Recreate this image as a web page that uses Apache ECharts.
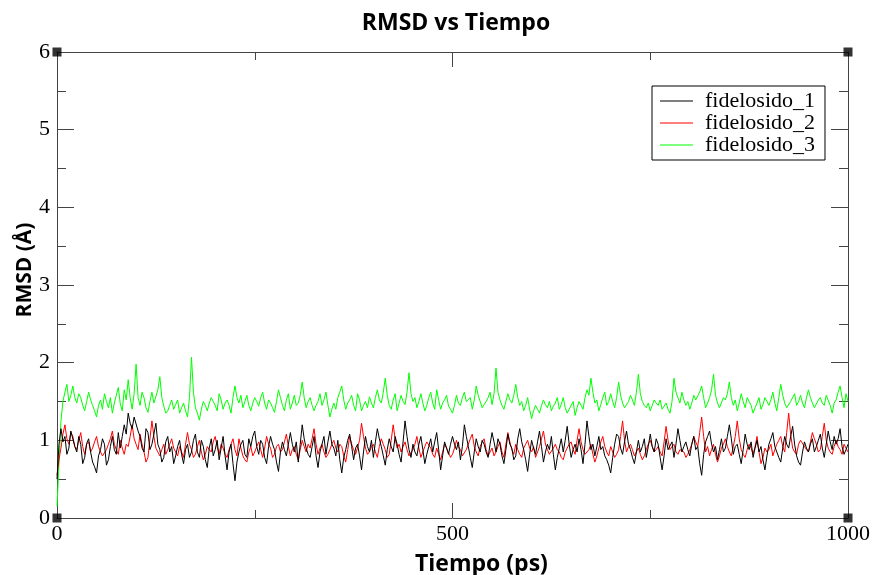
<!DOCTYPE html>
<html>
<head>
<meta charset="utf-8">
<script src="https://cdn.jsdelivr.net/npm/echarts@6/dist/echarts.min.js"></script>
<style>html,body{margin:0;padding:0;background:#fff;}#c{width:873px;height:575px;}</style>
</head>
<body>
<div id="c"></div>
<script>
const seriesNames = ['fidelosido_1', 'fidelosido_2', 'fidelosido_3'];
const timeStart = 0;
const timeStep = 2.5; // ps between samples
const xTicks = [0, 500, 1000];
const yTicks = [0, 1, 2, 3, 4, 5, 6];
const cornerPoints = [[0, 0], [0, 6], [1000, 0], [1000, 6]];

const fidelosido1 = [
0.50,0.95,1.15,0.98,1.05,0.82,0.90,1.12,1.10,0.92,0.85,1.05,0.95,0.70,0.78,0.96,1.02,0.85,0.72,0.66,
0.58,0.80,0.88,1.02,0.95,0.68,0.75,0.92,1.05,0.88,0.82,1.10,0.90,1.05,1.20,1.08,1.35,1.22,1.15,1.30,
1.28,1.12,1.05,0.90,0.85,1.15,1.10,0.88,0.95,1.08,1.22,0.95,0.88,0.72,0.78,0.98,1.05,0.85,0.92,0.70,
0.80,0.92,1.00,0.82,0.70,0.88,0.95,0.78,0.85,1.00,1.08,0.85,0.78,1.00,0.92,0.75,0.65,0.90,1.02,0.80,
0.88,1.00,0.75,0.90,1.05,0.80,0.62,0.85,0.95,0.70,0.48,0.72,0.85,0.95,1.00,0.82,0.78,1.02,0.92,1.05,
1.12,0.92,0.82,1.00,0.95,0.78,0.70,0.92,1.05,0.95,0.88,0.72,0.60,0.85,0.98,0.88,0.80,0.95,1.10,0.95,
0.85,0.98,0.72,0.95,1.20,1.02,0.90,0.82,0.78,0.92,1.05,0.80,0.65,0.85,0.95,1.05,0.82,0.98,1.12,0.95,
0.90,0.80,1.00,0.75,0.58,0.78,0.88,1.00,1.08,0.92,0.75,0.90,0.95,0.80,0.62,0.85,1.05,0.92,0.85,1.00,
0.78,0.98,1.15,1.02,0.92,0.80,0.68,0.88,1.02,0.92,0.85,1.05,0.95,0.82,0.72,0.98,1.25,1.05,0.88,0.78,
0.95,0.85,0.80,0.95,1.05,0.88,0.70,0.82,0.92,1.02,0.85,0.98,1.10,0.88,0.62,0.80,0.98,0.90,0.82,0.95,
1.05,0.95,0.88,0.98,0.75,0.92,1.20,1.05,0.92,0.78,0.65,0.85,1.02,0.92,0.85,1.00,0.95,0.85,0.78,0.95,
1.10,0.98,0.85,1.02,0.95,0.80,0.70,0.88,1.08,0.95,0.90,0.75,0.80,1.02,1.15,0.98,0.88,0.75,0.60,0.82,
1.00,0.90,0.82,0.98,1.12,0.92,0.72,0.85,0.95,0.88,1.05,0.82,0.62,0.78,0.90,1.02,0.85,1.00,1.18,0.95,
0.78,0.88,0.95,0.85,1.02,0.88,0.70,0.95,1.25,1.05,0.88,0.95,0.80,0.92,1.05,0.88,0.92,0.80,0.75,0.68,
0.58,0.78,0.95,1.08,1.05,0.90,0.82,0.98,1.12,0.95,0.88,0.78,0.70,0.85,1.00,0.85,0.92,1.02,0.78,0.92,
1.08,0.92,0.85,1.02,0.95,0.78,0.62,0.80,1.02,0.88,0.90,0.98,0.78,0.95,1.15,1.00,0.85,0.92,0.98,0.88,
0.80,0.95,1.05,0.88,0.92,0.70,0.55,0.82,0.98,1.05,1.12,0.95,0.85,0.92,0.75,0.88,1.02,0.85,0.90,1.05,
1.20,1.02,0.82,0.92,0.95,0.82,0.70,0.88,1.08,0.95,0.88,0.98,0.78,0.90,1.00,0.85,0.92,0.75,0.62,0.80,
0.95,1.02,1.10,0.92,0.85,0.78,0.72,0.90,1.05,0.95,0.90,1.05,1.18,0.95,0.80,0.72,0.68,0.85,0.98,0.90,
0.85,0.95,1.02,0.85,0.92,1.00,1.08,0.90,0.78,0.95,1.12,0.98,0.88,1.05,0.95,1.02,1.15,0.92,0.82,0.88,
0.95];

const fidelosido2 = [
0.55,0.75,0.90,1.08,1.20,1.02,0.95,1.10,1.05,0.92,0.88,1.00,1.10,0.92,0.82,0.95,0.98,0.85,0.90,0.98,
1.05,0.92,0.85,0.80,0.78,0.88,0.95,1.02,1.12,0.95,0.88,0.82,1.00,0.90,0.82,0.95,0.92,1.05,1.20,1.02,
0.95,0.88,1.08,0.95,0.85,0.72,0.78,1.02,1.25,1.05,0.90,0.85,0.80,0.88,0.95,0.82,0.88,0.95,1.02,0.90,
0.85,0.80,0.92,0.85,0.78,0.95,1.10,0.95,0.88,0.78,0.82,0.92,1.00,0.85,0.75,0.82,0.92,0.88,0.85,0.98,
1.05,0.92,0.82,0.95,0.90,0.82,0.78,0.88,0.95,1.02,0.88,0.80,1.02,0.90,0.80,0.75,0.72,0.85,0.92,0.80,
0.85,0.92,0.98,0.88,0.78,0.90,1.05,0.95,0.90,0.78,0.82,0.92,0.95,0.85,0.88,0.98,1.08,0.92,0.80,0.88,
0.92,0.82,0.75,0.88,1.00,0.92,0.85,0.95,0.90,1.02,1.15,0.95,0.82,0.90,0.95,0.85,0.78,0.82,0.88,0.95,
1.00,0.90,0.85,0.95,0.92,0.80,0.72,0.88,1.05,0.95,0.88,0.82,0.80,1.00,1.22,1.05,0.90,0.82,0.85,0.92,
0.95,0.85,0.78,0.92,1.02,0.95,0.88,0.78,0.82,1.00,1.20,1.02,0.90,0.95,0.85,0.92,0.98,0.88,0.80,0.82,
0.88,0.95,1.05,0.90,0.78,0.85,0.92,0.98,1.00,0.90,0.82,0.78,0.90,0.82,0.75,0.85,0.95,0.90,0.88,0.78,
0.82,0.90,1.00,0.92,0.88,0.80,0.78,0.88,0.95,1.02,1.08,0.92,0.85,0.80,0.92,0.98,1.02,0.88,0.80,0.85,
0.90,0.80,0.85,0.92,0.98,0.85,0.78,0.95,1.10,0.98,0.88,0.82,0.95,0.88,0.82,0.78,0.90,0.95,1.00,0.90,
0.85,0.92,0.78,0.85,0.92,1.02,1.12,0.95,0.88,0.82,0.80,0.90,0.95,0.88,0.85,0.78,0.75,0.85,0.90,0.95,
0.98,0.88,0.82,1.00,1.15,0.98,0.88,0.82,0.80,0.88,0.95,0.82,0.72,0.80,0.90,0.98,1.05,0.92,0.85,0.80,
0.92,0.85,0.78,0.82,0.88,1.05,1.25,1.00,0.85,0.92,0.95,0.88,0.80,0.85,0.90,0.82,0.75,0.80,0.88,0.95,
1.00,0.92,0.85,0.88,0.92,0.85,0.80,0.98,1.18,1.00,0.88,0.92,0.95,0.85,0.82,0.88,0.90,0.85,0.78,0.82,
0.88,0.95,1.05,0.98,0.92,1.10,1.30,1.05,0.85,0.92,0.80,0.88,0.95,0.82,0.72,0.80,0.90,0.95,1.02,0.92,
0.85,0.80,0.92,1.05,1.25,1.02,0.88,0.82,0.78,0.88,0.95,0.90,0.82,0.92,1.05,0.85,0.70,0.78,0.90,0.85,
0.88,0.95,0.80,0.88,0.95,1.00,1.05,0.92,0.85,1.10,1.35,1.08,0.90,0.85,0.82,0.95,1.00,0.98,0.92,0.88,
0.85,0.98,1.10,1.02,0.95,0.85,0.88,1.05,1.22,1.00,0.90,0.85,0.82,0.92,1.00,0.92,0.88,0.82,0.95,0.90,
0.85];

const fidelosido3 = [
0.15,0.70,1.25,1.50,1.62,1.72,1.50,1.58,1.70,1.55,1.48,1.60,1.55,1.45,1.38,1.50,1.62,1.52,1.45,1.38,
1.30,1.45,1.52,1.40,1.60,1.50,1.42,1.55,1.35,1.48,1.58,1.68,1.47,1.38,1.65,1.52,1.78,1.55,1.40,1.60,
1.98,1.55,1.45,1.62,1.55,1.42,1.36,1.50,1.62,1.48,1.50,1.65,1.82,1.55,1.44,1.35,1.38,1.45,1.52,1.40,
1.46,1.52,1.35,1.42,1.48,1.38,1.30,1.55,2.07,1.62,1.42,1.35,1.26,1.40,1.50,1.45,1.38,1.48,1.55,1.50,
1.45,1.38,1.60,1.52,1.40,1.48,1.52,1.45,1.35,1.55,1.70,1.55,1.48,1.58,1.42,1.50,1.58,1.45,1.38,1.48,
1.55,1.50,1.44,1.55,1.62,1.48,1.40,1.52,1.48,1.42,1.36,1.50,1.65,1.55,1.45,1.38,1.52,1.60,1.40,1.48,
1.58,1.45,1.48,1.58,1.75,1.55,1.42,1.50,1.55,1.45,1.38,1.45,1.50,1.60,1.45,1.52,1.62,1.45,1.30,1.40,
1.48,1.40,1.55,1.62,1.70,1.52,1.40,1.48,1.52,1.58,1.45,1.38,1.60,1.52,1.38,1.45,1.50,1.42,1.56,1.48,
1.42,1.55,1.65,1.52,1.48,1.62,1.80,1.58,1.45,1.40,1.52,1.60,1.38,1.48,1.58,1.50,1.46,1.62,1.87,1.60,
1.50,1.55,1.42,1.50,1.60,1.48,1.38,1.45,1.55,1.62,1.48,1.40,1.65,1.52,1.40,1.48,1.52,1.58,1.44,1.40,
1.35,1.45,1.58,1.48,1.45,1.55,1.62,1.50,1.48,1.55,1.40,1.52,1.70,1.58,1.50,1.42,1.42,1.50,1.55,1.62,
1.46,1.60,1.93,1.62,1.52,1.45,1.40,1.50,1.60,1.52,1.48,1.58,1.72,1.55,1.45,1.50,1.38,1.45,1.55,1.40,
1.28,1.38,1.45,1.40,1.35,1.45,1.52,1.46,1.42,1.50,1.38,1.44,1.48,1.55,1.40,1.46,1.55,1.42,1.35,1.40,
1.45,1.50,1.32,1.42,1.50,1.45,1.40,1.55,1.65,1.58,1.80,1.62,1.48,1.52,1.38,1.46,1.55,1.62,1.45,1.50,
1.60,1.50,1.42,1.55,1.75,1.58,1.48,1.42,1.40,1.50,1.58,1.52,1.45,1.62,1.85,1.60,1.50,1.45,1.42,1.48,
1.38,1.45,1.52,1.48,1.45,1.52,1.40,1.42,1.48,1.40,1.35,1.50,1.80,1.62,1.55,1.48,1.62,1.52,1.45,1.50,
1.40,1.48,1.58,1.52,1.50,1.62,1.70,1.55,1.42,1.48,1.55,1.65,1.85,1.58,1.48,1.42,1.40,1.55,1.52,1.60,
1.75,1.55,1.45,1.52,1.38,1.48,1.60,1.50,1.42,1.55,1.50,1.45,1.35,1.42,1.48,1.55,1.40,1.46,1.55,1.50,
1.45,1.52,1.62,1.48,1.38,1.55,1.72,1.58,1.48,1.42,1.40,1.50,1.52,1.60,1.45,1.50,1.58,1.48,1.42,1.55,
1.65,1.55,1.48,1.42,1.40,1.52,1.55,1.48,1.45,1.58,1.60,1.45,1.35,1.48,1.52,1.62,1.70,1.55,1.42,1.60,
1.50];

const seriesValues = [fidelosido1, fidelosido2, fidelosido3];
const seriesColors = ['#000000', '#ff0000', '#00ff00'];

function pairs(vals) {
  return vals.map((v, i) => [timeStart + i * timeStep, v]);
}

const serifFont = '"Liberation Serif", "DejaVu Serif", serif';
const sansFont = '"Open Sans", "Noto Sans", sans-serif';
const axisColor = '#444';

const chart = echarts.init(document.getElementById('c'), null, {renderer: 'canvas'});

const baseX = {
  type: 'value', min: xTicks[0], max: xTicks[xTicks.length - 1], interval: xTicks[1] - xTicks[0],
  axisLine: {onZero: false, lineStyle: {color: axisColor, width: 1}},
  axisTick: {inside: true, length: 15, lineStyle: {color: axisColor}},
  minorTick: {show: true, splitNumber: 2, length: 8, lineStyle: {color: axisColor}},
  splitLine: {show: false}, minorSplitLine: {show: false}
};
const baseY = {
  type: 'value', min: yTicks[0], max: yTicks[yTicks.length - 1], interval: yTicks[1] - yTicks[0],
  axisLine: {onZero: false, lineStyle: {color: axisColor, width: 1}},
  axisTick: {inside: true, length: 17, lineStyle: {color: axisColor}},
  minorTick: {show: true, splitNumber: 2, length: 9, lineStyle: {color: axisColor}},
  splitLine: {show: false}, minorSplitLine: {show: false}
};

const option = {
  animation: false,
  backgroundColor: '#fff',
  title: {
    text: 'RMSD vs Tiempo',
    left: 451, top: 7, textAlign: 'center',
    textStyle: {fontFamily: sansFont, fontWeight: 'bold', fontSize: 23, color: '#000'}
  },
  grid: {left: 57, right: 23, top: 52, bottom: 57, containLabel: false},
  legend: {
    orient: 'vertical', left: 652, top: 86,
    data: seriesNames,
    icon: 'rect',
    backgroundColor: '#fff',
    borderColor: '#000', borderWidth: 1,
    padding: [4, 10, 4, 8],
    itemWidth: 33, itemHeight: 1, itemGap: 0,
    textStyle: {fontFamily: serifFont, fontSize: 22, lineHeight: 21, color: '#000', padding: [0, 0, 0, 7]}
  },
  xAxis: [
    Object.assign({}, baseX, {
      position: 'bottom',
      axisLabel: {fontFamily: serifFont, fontSize: 22, color: '#000', margin: 5,
                  formatter: v => String(v)}
    }),
    Object.assign({}, baseX, {position: 'top', axisLabel: {show: false}})
  ],
  yAxis: [
    Object.assign({}, baseY, {
      position: 'left',
      axisLabel: {fontFamily: serifFont, fontSize: 22, color: '#000', margin: 7}
    }),
    Object.assign({}, baseY, {position: 'right', axisLabel: {show: false}})
  ],
  graphic: [
    {type: 'text', left: 415, top: 553,
     style: {text: 'Tiempo (ps)', font: 'bold 23px ' + sansFont, fill: '#000'}},
    {type: 'text', x: 25, y: 270, rotation: Math.PI / 2,
     style: {text: 'RMSD (Å)', font: 'bold 21px ' + sansFont, fill: '#000', align: 'center', verticalAlign: 'middle'}}
  ],
  series: seriesNames.map((name, k) => ({
    name: name, type: 'line', xAxisIndex: 0, yAxisIndex: 0,
    data: pairs(seriesValues[k]),
    symbol: 'none', showSymbol: false,
    lineStyle: {color: seriesColors[k], width: 1},
    itemStyle: {color: seriesColors[k]},
    z: 3 - k
  })).concat([{
    type: 'scatter', data: cornerPoints, symbol: 'rect', symbolSize: 9,
    itemStyle: {color: '#000'}, silent: true, z: 10, clip: false
  }])
};
chart.setOption(option);
</script>
</body>
</html>
